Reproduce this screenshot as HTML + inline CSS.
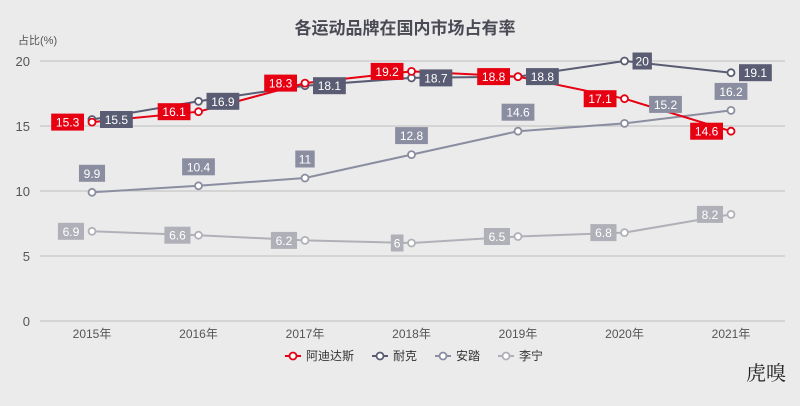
<!DOCTYPE html>
<html><head><meta charset="utf-8"><style>
body{margin:0;background:#ebebeb;}
svg{display:block;font-family:"Liberation Sans","Noto Sans CJK SC",sans-serif;}
</style></head><body>
<svg id="s" width="800" height="406" viewBox="0 0 800 406">
<rect width="800" height="406" fill="#ebebeb"/>
<text x="405" y="34" text-anchor="middle" font-size="17" font-weight="bold" fill="#4a4a55">各运动品牌在国内市场占有率</text>
<text x="18" y="44" font-size="11" fill="#555">占比(%)</text>
<text x="746" y="380" font-size="20" fill="#222" font-family="'Noto Serif CJK SC',serif">虎嗅</text>
</svg>
<script>
const s=document.getElementById('s');const NS='http://www.w3.org/2000/svg';
function el(t,a,txt){const e=document.createElementNS(NS,t);for(const k in a)e.setAttribute(k,a[k]);if(txt!==undefined)e.textContent=txt;s.appendChild(e);return e;}
const X=i=>92+i*106.5, Y=v=>321-v*13;
for(let v=0;v<=20;v+=5){el('line',{x1:40,x2:785,y1:Y(v),y2:Y(v),stroke:'#bdbdbd','stroke-width':1});
el('text',{x:30,y:Y(v)+5,'text-anchor':'end','font-size':13,fill:'#555'},v);}
for(let i=0;i<7;i++)el('text',{x:X(i),y:338,'text-anchor':'middle','font-size':12,fill:'#555'},(2015+i)+'年');
const S=[
{c:'#8a8ea0',d:[9.9,10.4,11,12.8,14.6,15.2,16.2],pos:['t','t','t','t','t','tr','t']},
{c:'#b0b1b8',d:[6.9,6.6,6.2,6,6.5,6.8,8.2],pos:['l','l','l','l','l','l','l']},
{c:'#5a5c73',d:[15.5,16.9,18.1,18.7,18.8,20,19.1],pos:['r','r','r','r','r','r','r']},
{c:'#e60012',d:[15.3,16.1,18.3,19.2,18.8,17.1,14.6],pos:['l','l','l','l','l','l','l']},
];
S.forEach(sr=>{
el('polyline',{points:sr.d.map((v,i)=>X(i)+','+Y(v)).join(' '),fill:'none',stroke:sr.c,'stroke-width':2});
sr.d.forEach((v,i)=>el('circle',{cx:X(i),cy:Y(v),r:3.5,fill:'#fff',stroke:sr.c,'stroke-width':1.8}));
});
S.forEach(sr=>{sr.d.forEach((v,i)=>{
const t=String(v);const w=t.length*6.7+6,h=17;let cx=X(i),cy=Y(v);
const p=sr.pos[i];
if(p=='l'){cx-=w/2+8;}else if(p=='r'){cx+=w/2+8;}else if(p=='t'){cy-=19;}else if(p=='tr'){cy-=19;cx+=41;}
el('rect',{x:cx-w/2,y:cy-h/2,width:w,height:h,fill:sr.c});
el('text',{x:cx,y:cy+4.5,'text-anchor':'middle','font-size':12,fill:'#fff'},t);
});});
const lg=[['阿迪达斯','#e60012'],['耐克','#5a5c73'],['安踏','#8a8ea0'],['李宁','#b0b1b8']];
let lx=285;lg.forEach(([n,c])=>{el('line',{x1:lx,x2:lx+16,y1:356,y2:356,stroke:c,'stroke-width':2});
el('circle',{cx:lx+8,cy:356,r:3.5,fill:'#fff',stroke:c,'stroke-width':1.8});
el('text',{x:lx+21,y:360,'font-size':12,fill:'#333'},n);lx+=21+n.length*12+18;});
</script>
</body></html>
